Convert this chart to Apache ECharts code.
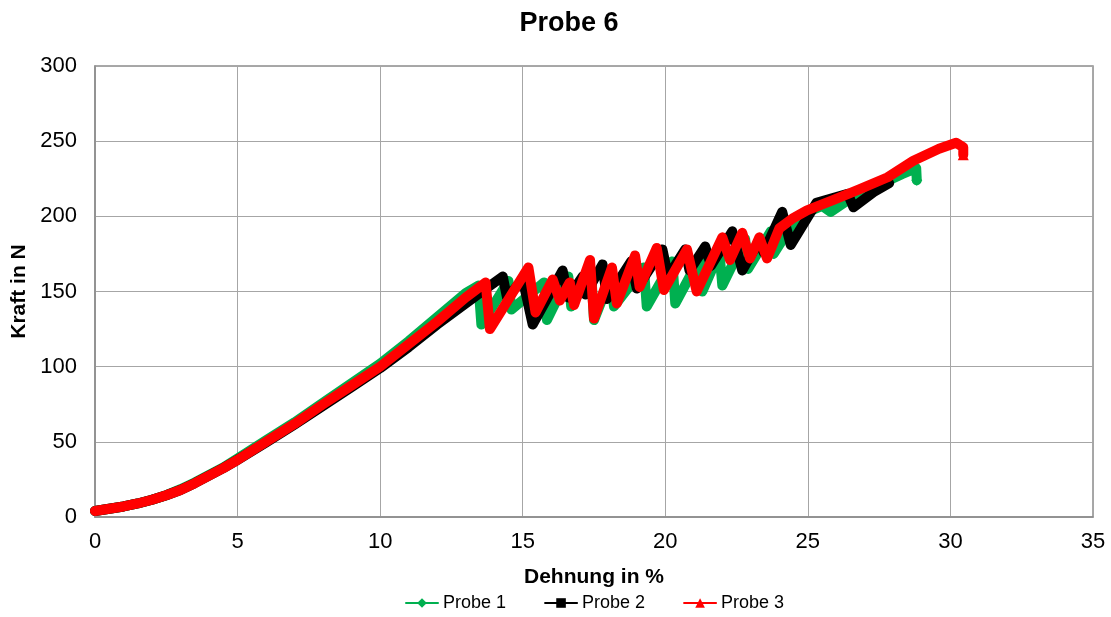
<!DOCTYPE html>
<html>
<head>
<meta charset="utf-8">
<script src="https://cdn.jsdelivr.net/npm/echarts@6/dist/echarts.min.js"></script>
<style>
html,body{margin:0;padding:0;background:#fff;}
#chart{width:1111px;height:617px;}
</style>
</head>
<body>
<div id="chart"></div>
<script>
// ---- data ----
const chartTitle = 'Probe 6';
const xAxisTitle = 'Dehnung in %';
const yAxisTitle = 'Kraft in N';
const seriesNames = ['Probe 1', 'Probe 2', 'Probe 3'];
const xTicks = [0, 5, 10, 15, 20, 25, 30, 35];
const yTicks = [0, 50, 100, 150, 200, 250, 300];

// Probe 1 (green) [Dehnung %, Kraft N]
const probe1 = [
  [0,4],[0.5,5.5],[1,7],[1.5,9],[2,11.5],[2.5,14.5],[3,18.5],[3.5,23],[4,28],[4.5,33],[5,39],
  [6,51],[7,63],[8,76],[9,89],[10,102],[11,117],[12,133],[13,149],[13.45,154],
  [13.55,128],[14.5,157],[14.6,138],[15.75,156],[15.85,131],[16.6,160],[16.7,140],
  [17.4,163],[17.5,131],[18.1,160],[18.2,140],[19.25,166],[19.35,140],[20.25,170],[20.35,142],
  [21.2,172],[21.3,150],[21.9,176],[22.0,154],[22.8,185],[22.9,165],[23.7,190],[23.8,175],
  [24.5,196],[25.0,203],[25.5,207],[25.8,203],[26.5,212],[27.5,221],[28.3,228],[28.8,232],[28.82,224]
];

// Probe 2 (black)
const probe2 = [
  [0,4],[0.5,5.5],[1,7],[1.5,9],[2,11.5],[2.5,14.5],[3,18],[3.5,22.5],[4,27.5],[4.5,32.5],[5,38],
  [6,49.5],[7,61.5],[8,74],[9,86.5],[10,99],[11,113],[12,128],[13,142],[13.5,149],
  [14.3,160],[14.45,146],[15.0,158],[15.35,128],[16.4,164],[16.6,146],[17.1,160],[17.2,148],
  [17.8,168],[17.95,145],[18.8,170],[19.0,152],[19.9,178],[20.1,160],[20.7,178],[20.85,164],
  [21.4,180],[21.6,167],[22.35,190],[22.7,164],[23.3,184],[23.45,176],[24.1,203],[24.4,181],
  [25.3,209],[26.4,215],[26.6,206],[27.3,216],[27.85,222]
];

// Probe 3 (red)
const probe3 = [
  [0,4],[0.5,5.5],[1,7],[1.5,9],[2,11.5],[2.5,14.5],[3,18],[3.5,22.5],[4,27.5],[4.5,32.5],[5,38],
  [6,50],[7,62],[8,75],[9,87.5],[10,100],[11,115],[12,130],[13,146],[13.7,156],
  [13.85,125],[15.2,166],[15.45,136],[16.05,158],[16.3,144],[16.65,156],[16.8,141],
  [17.36,171],[17.5,132],[18.13,166],[18.3,142],[18.94,174],[19.1,153],[19.7,179],[19.95,151],
  [20.76,178],[21.1,150],[22.0,186],[22.27,171],[22.7,189],[22.97,172],[23.3,186],[23.57,172],
  [24.0,192],[24.5,199],[24.97,204],[25.9,211],[26.8,218],[27.8,226],[28.7,237],[29.6,245],
  [30.2,249],[30.45,246],[30.45,241]
];

const seriesData = [probe1, probe2, probe3];
const seriesColors = ['#00B050', '#000000', '#FF0000'];
const seriesSymbols = ['diamond', 'rect', 'triangle'];
const endMarker = [true, false, true];

const font = '"Liberation Sans", Arial, sans-serif';

const chart = echarts.init(document.getElementById('chart'), null, {renderer: 'canvas'});

const series = seriesData.map((d, i) => ({
  name: seriesNames[i],
  type: 'line',
  data: d,
  symbol: seriesSymbols[i],
  showSymbol: true,
  symbolSize: (v, p) => (endMarker[i] && p.dataIndex === d.length - 1) ? 11 : 0,
  itemStyle: {color: seriesColors[i]},
  lineStyle: {color: seriesColors[i], width: 10, cap: 'round', join: 'round'},
  z: 2 + i,
  animation: false
}));

chart.setOption({
  animation: false,
  backgroundColor: '#ffffff',
  title: {
    text: chartTitle,
    left: 564, top: 5, textAlign: 'center',
    textStyle: {fontFamily: font, fontSize: 27, fontWeight: 'bold', color: '#000'}
  },
  legend: {
    data: seriesNames,
    left: 400, top: 589,
    itemWidth: 32, itemHeight: 12, itemGap: 38,
    textStyle: {fontFamily: font, fontSize: 18, color: '#000'}
  },
  grid: {
    left: 95, right: 18, top: 66, bottom: 100,
    show: true, borderColor: '#8c8c8c', borderWidth: 1.5
  },
  xAxis: {
    type: 'value', min: 0, max: 35, interval: 5,
    name: xAxisTitle, nameLocation: 'middle', nameGap: 50,
    nameTextStyle: {fontFamily: font, fontSize: 21, fontWeight: 'bold', color: '#000'},
    axisLine: {show: true, lineStyle: {color: '#8c8c8c', width: 1.5}},
    axisTick: {show: false},
    axisLabel: {fontFamily: font, fontSize: 22, color: '#000', margin: 14,
      formatter: v => xTicks.includes(v) ? String(v) : ''},
    splitLine: {show: true, lineStyle: {color: '#a6a6a6', width: 1}}
  },
  yAxis: {
    type: 'value', min: 0, max: 300, interval: 50,
    name: yAxisTitle, nameLocation: 'middle', nameGap: 60,
    nameTextStyle: {fontFamily: font, fontSize: 21, fontWeight: 'bold', color: '#000'},
    axisLine: {show: true, lineStyle: {color: '#8c8c8c', width: 1.5}},
    axisTick: {show: false},
    axisLabel: {fontFamily: font, fontSize: 22, color: '#000', margin: 18,
      formatter: v => yTicks.includes(v) ? String(v) : ''},
    splitLine: {show: true, lineStyle: {color: '#a6a6a6', width: 1}}
  },
  series: series
});
</script>
</body>
</html>
